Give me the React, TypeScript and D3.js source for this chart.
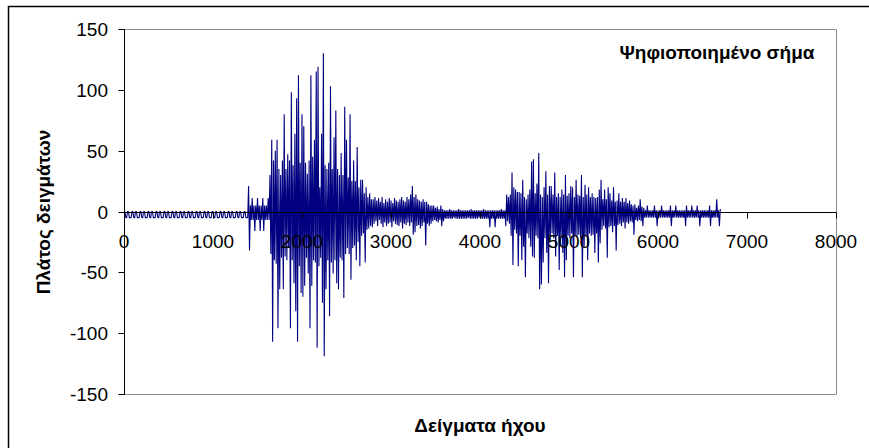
import React from 'react';
import * as d3 from 'd3';

// Recorded sound, one amplitude for every 10 samples.
const SAMPLE_STEP = 10;

// Near-silence before the word starts: small periodic dips below zero.
const leadIn = [
  0, 0, -5, -5, 0, 0, -5, -5, -5,
  0, 0, -5, -5, 0, 0, -5, -5, -5,
  0, 0, -5, -5, 0, 0, -5, -5, -5,
  0, 0, -5, -5, 0, 0, -5, -5, -5,
  0, 0, -5, -5, 0, 0, -5, -5, -5,
  0, 0, -5, -5, 0, 0, -5, -5, -5,
  0, 0, -5, -5, 0, 0, -5, -5, -5,
  0, 0, -5, -5, 0, 0, -5, -5, -5,
  0, 0, -5, -5, 0, 0, -5, -5, -5,
  0, 0, -5, -5, 0, 0, -5, -5, -5,
  0, 0, -5, -5, 0, 0, -5, -5, -5,
  0, 0, -5, -5, 0, 0, -5, -5, -5,
  0, 0, -5, -5, 0, 0, -5, -5, -5,
  0, 0, -5, -5, 0, 0, -5, -5, -5,
  0, 0, -5, -5, 0, 0, -5, -5, -5,
  0, 0, -5, -5, -5,
];

const onset = [
  21, -32, 5, -7, 11, -7, 5, -16, 5, -7, 11, -7,
  5, -16, 5, -7, 11, -16, 5, -7, 5, -7, 11, -7,
];

const firstBurst = [
  30, -35, 59, -107, 42, -40, 50, -43, 59, -96, 35, -64, 30, -38, 42, -64, 80, -37, 35, -40,
  47, -30, 42, -96, 98, -40, 38, -59, 64, -82, 93, -107, 112, -45, 40, -67, 80, -70, 70, -61,
  40, -38, 31, -51, 42, -96, 112, -61, 45, -40, 59, -42, 115, -112, 119, -45, 20, -38, 64, -75,
  130, -119, 38, -64, 35, -40, 40, -86, 103, -42, 35, -51, 61, -40, 83, -59, 35, -64, 30, -38,
  48, -40, 30, -71, 86, -35, 59, -30, 28, -35, 80, -56, 25, -30, 42, -28, 25, -40, 53, -25,
  20, -45, 26, -20, 26, -18, 15, -42, 20, -15, 12, -14, 15, -12, 10, -13,
];

const firstDecay = [
  10, -10, 12, -8, 9, -12, 11, -7, 8, -10, 12, -13, 7, -9, 10, -12, 8, -10, 11, -9,
  9, -13, 7, -8, 11, -10, 9, -11, 8, -12, 10, -9, 12, -14, 9, -10, 8, -11, 12, -9,
  10, -12, 14, -9, 21, -19, 12, -17, 14, -12, 10, -11, 9, -14, 8, -12, 10, -9, 8, -28,
  8, -10, 6, -12, 5, -10, 5, -8, 5, -7, 3, -8, 4, -9, 2, -7, 5, -12, 2, -8,
];

const pause = [
  1, -6, 1, -6, 1, -6, 2, -6, 1, -6, 1, -5, 1, -6, 1, -6, 2, -6, 1, -6,
  1, -6, 1, -6, 1, -6, 1, -5, 1, -6, 2, -6, 1, -6, 1, -6, 1, -6, 1, -5,
  1, -6, 1, -6, 2, -6, 1, -6, 1, -6, 1, -13, 1, -6, 1, -6, 1, -13, 1, -6,
  1, -6, 1, -6, 2, -6, 1, -6, 1,
];

const secondBurst = [
  -12, 14, -8, 12, -10, 14, -20, 32, -44, 20, -15, 18, -18, 16, -45, 16, -20, 15, -40, 26,
  -29, 12, -54, 10, -18, 14, -22, 18, -29, 41, -37, 43, -38, 15, -20, 23, -22, 48, -64, 14,
  -60, 12, -42, 20, -22, 33, -34, 14, -59, 21, -20, 21, -18, 14, -22, 32, -37, 12, -20, 15,
  -48, 12, -21, 18, -34, 14, -54, 30, -40, 13, -20, 15, -22, 21, -18, 20, -54, 12, -20, 26,
  -21, 14, -19, 13, -22, 30, -54, 12, -29, 22, -20, 14, -40, 20, -18, 12, -20, 15, -19, 12,
  -34, 11, -18, 12, -42, 18, -26, 26, -15, 10, -12, 18, -14, 10, -38, 20, -13, 15, -12, 9,
  -17, 20, -12, 8, -32, 9, -11, 15, -10, 8, -12, 11, -9, 8, -14, 11, -9, 7, -10, 9,
  -8, 6, -9, 5, -19, 6, -7, 3, -8, 5, -7, 10, -8, 4, -12, 3,
];

const tail = [
  -5, 1, -5, 5, -5, 1, -5, 1, -5, 1, -5, 5, -5, 1, -12, 1, -5, 1, -5, 5,
  -5, 1, -5, 1, -5, 1, -5, 1, -5, 5, -12, 1, -5, 1, -5, 5, -5, 1, -5, 1,
  -5, 1, -5, 1, -5, 1, -12, 5, -5, 1, -5, 1, -5, 5, -5, 1, -5, 1, -5, 5,
  -5, 1, -12, 1, -5, 1, -5, 1, -5, 1, -5, 1, -5, 5, -12, 1, -5, 1, -5, 1,
  -5, 10, -5, 1, -12, 2,
];

const xTicks = [0, 1000, 2000, 3000, 4000, 5000, 6000, 7000, 8000];
const yTicks = [150, 100, 50, 0, -50, -100, -150];

const chartTitle = 'Ψηφιοποιημένο σήμα';
const xTitle = 'Δείγματα ήχου';
const yTitle = 'Πλάτος δειγμάτων';

const FONT = '"Liberation Sans", Arial, sans-serif';

export default function App() {
  const width = 869;
  const height = 448;
  const plot = { left: 124, right: 836, top: 29, bottom: 394 };

  const x = d3.scaleLinear().domain([0, 8000]).range([plot.left, plot.right]);
  const y = d3.scaleLinear().domain([-150, 150]).range([plot.bottom, plot.top]);

  const samples = [
    ...leadIn,
    ...onset,
    ...firstBurst,
    ...firstDecay,
    ...pause,
    ...secondBurst,
    ...tail,
  ];

  const wave = d3
    .line<number>()
    .x((_, i) => x(i * SAMPLE_STEP))
    .y((d) => y(d))
    .curve(d3.curveLinear)(samples) as string;

  const zeroY = Math.round(y(0)) + 0.5;
  const axisX = plot.left + 0.5;

  return (
    <svg
      width={width}
      height={height}
      style={{ position: 'absolute', left: 0, top: 0, background: '#fff' }}
      fontFamily={FONT}
    >
      <rect x={0} y={0} width={width} height={height} fill="#fff" />
      {/* chart frame */}
      <rect
        x={8.5}
        y={6.5}
        width={width + 20}
        height={height + 20}
        fill="none"
        stroke="#000"
        strokeWidth={1.5}
      />
      {/* plot area border */}
      <path
        d={`M${axisX},${plot.top + 0.5}H${plot.right + 0.5}V${plot.bottom + 0.5}H${axisX}`}
        fill="none"
        stroke="#8c8c8c"
        strokeWidth={1}
      />

      {/* waveform */}
      <path d={wave} fill="none" stroke="#000080" strokeWidth={1.1} strokeLinejoin="bevel" />

      {/* y axis */}
      <line x1={axisX} x2={axisX} y1={plot.top} y2={plot.bottom + 1} stroke="#000" strokeWidth={1} />
      {yTicks.map((t) => {
        const ty = Math.round(y(t)) + 0.5;
        return (
          <g key={`y${t}`}>
            <line x1={axisX - 6} x2={axisX} y1={ty} y2={ty} stroke="#000" strokeWidth={1} />
            <text x={108} y={y(t) + 7} textAnchor="end" fontSize={19} fill="#000">
              {t}
            </text>
          </g>
        );
      })}

      {/* x axis along zero */}
      <line x1={plot.left} x2={plot.right} y1={zeroY} y2={zeroY} stroke="#000" strokeWidth={1} />
      {xTicks.map((t) => {
        const tx = Math.round(x(t)) + 0.5;
        return (
          <g key={`x${t}`}>
            <line x1={tx} x2={tx} y1={zeroY} y2={zeroY + 6} stroke="#000" strokeWidth={1} />
            <text x={x(t)} y={248} textAnchor="middle" fontSize={19} fill="#000">
              {t}
            </text>
          </g>
        );
      })}

      {/* titles */}
      <text x={717} y={59} textAnchor="middle" fontSize={19} fontWeight="bold" fill="#000">
        {chartTitle}
      </text>
      <text x={480} y={432} textAnchor="middle" fontSize={19} fontWeight="bold" fill="#000">
        {xTitle}
      </text>
      <text
        transform={`translate(50,212) rotate(-90)`}
        textAnchor="middle"
        fontSize={19}
        fontWeight="bold"
        fill="#000"
      >
        {yTitle}
      </text>
    </svg>
  );
}
